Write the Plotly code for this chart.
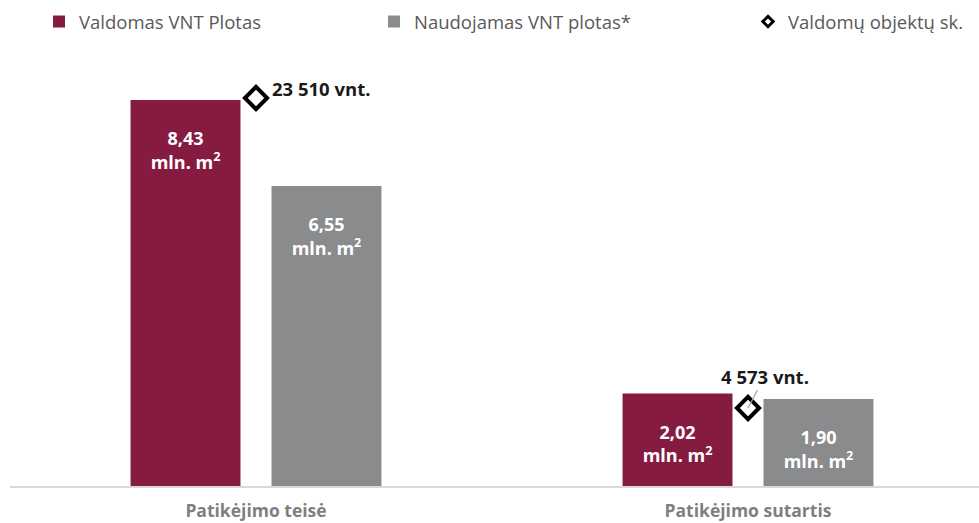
import plotly.graph_objects as go

categories = ["Patikėjimo teisė", "Patikėjimo sutartis"]
valdomas_plotas = [8.43, 2.02]
naudojamas_plotas = [6.55, 1.90]
objektu_sk = [23510, 4573]
valdomas_lbl = ["8,43", "2,02"]
naudojamas_lbl = ["6,55", "1,90"]
objektu_lbl = ["23 510 vnt.", "4 573 vnt."]

RED = "#861B41"
GRAY = "#898B8D"
x_pos = list(range(len(categories)))

PLOT_W, PLOT_H = 969, 486
PX_PER_UNIT = 45.8
# secondary (count) axis scale
PX_PER_COUNT = 0.01637
Y2_MIN = -192

val_font = dict(color="white", size=18, family="Open Sans", weight="bold")
leg_font = dict(size=18.5, color="#595959", family="Open Sans")
ann_font = dict(size=18.5, family="Open Sans", color="#1a1a1a", weight="bold")

fig = go.Figure()
fig.add_trace(go.Bar(
    x=x_pos, y=valdomas_plotas, name="Valdomas VNT Plotas",
    marker=dict(color=RED, line=dict(width=0)),
    text=["\u00a0<br>" + t + "<br>mln. m<sup>2</sup>" for t in valdomas_lbl],
    textposition="inside", insidetextanchor="end", textangle=0,
    insidetextfont=val_font, legend="legend", hoverinfo="skip",
))
fig.add_trace(go.Bar(
    x=x_pos, y=naudojamas_plotas, name="Naudojamas VNT plotas*",
    marker=dict(color=GRAY, line=dict(width=0)),
    text=["\u00a0<br>" + t + "<br>mln. m<sup>2</sup>" for t in naudojamas_lbl],
    textposition="inside", insidetextanchor="end", textangle=0,
    insidetextfont=val_font, legend="legend2", hoverinfo="skip",
))
fig.add_trace(go.Scatter(
    x=x_pos, y=objektu_sk, name="Valdomų objektų sk.", mode="markers",
    marker=dict(symbol="diamond-open", size=17, color="black", line=dict(width=4, color="black")),
    yaxis="y2", showlegend=False, hoverinfo="skip",
))
# legend entry for the diamond series (smaller symbol, as in the reference legend)
fig.add_trace(go.Scatter(
    x=[None], y=[None], name="Valdomų objektų sk.", mode="markers",
    marker=dict(symbol="diamond-open", size=8, color="black", line=dict(width=3, color="black")),
    yaxis="y2", legend="legend3", hoverinfo="skip",
))

# labels for the object counts
fig.add_annotation(x=x_pos[0], y=objektu_sk[0], yref="y2", text=objektu_lbl[0],
                   showarrow=False, xanchor="left", yanchor="middle", xshift=14, yshift=10,
                   font=ann_font)
fig.add_annotation(x=x_pos[1], y=objektu_sk[1], yref="y2", text=objektu_lbl[1],
                   showarrow=True, arrowhead=0, arrowwidth=1.2, arrowcolor="#a6a6a6",
                   ax=17, ay=-32, standoff=0,
                   font=ann_font)

ymax = PLOT_H / PX_PER_UNIT
y2max = Y2_MIN + PLOT_H / PX_PER_COUNT
leg_y = (PLOT_H - 22) / PLOT_H


def leg(px):
    return dict(x=px / PLOT_W, y=leg_y, xanchor="left", yanchor="middle", orientation="h",
                font=leg_font, bgcolor="rgba(0,0,0,0)", borderwidth=0)


fig.update_layout(
    width=979, height=523,
    margin=dict(l=10, r=0, t=0, b=37, autoexpand=False),
    plot_bgcolor="white", paper_bgcolor="white",
    barmode="group", bargap=0.427, bargroupgap=0.22,
    font=dict(family="Open Sans"),
    xaxis=dict(
        range=[-0.5, -0.5 + PLOT_W / 492], tickvals=x_pos, ticktext=categories,
        showgrid=False, zeroline=False, showline=True, linecolor="#d9d9d9", linewidth=2,
        ticks="outside", ticklen=8, tickcolor="rgba(0,0,0,0)", automargin=False,
        tickfont=dict(size=17.5, family="Open Sans", color="#7f7f7f", weight="bold"),
    ),
    yaxis=dict(range=[0, ymax], visible=False, showgrid=False, automargin=False),
    yaxis2=dict(range=[Y2_MIN, y2max], overlaying="y", visible=False, showgrid=False, automargin=False),
    legend=leg(29),
    legend2=leg(364),
    legend3=leg(738),
    showlegend=True,
)

fig.write_html("out.html", config={"displayModeBar": False},
               post_script="document.body.style.margin='0';document.body.style.overflow='hidden';")
